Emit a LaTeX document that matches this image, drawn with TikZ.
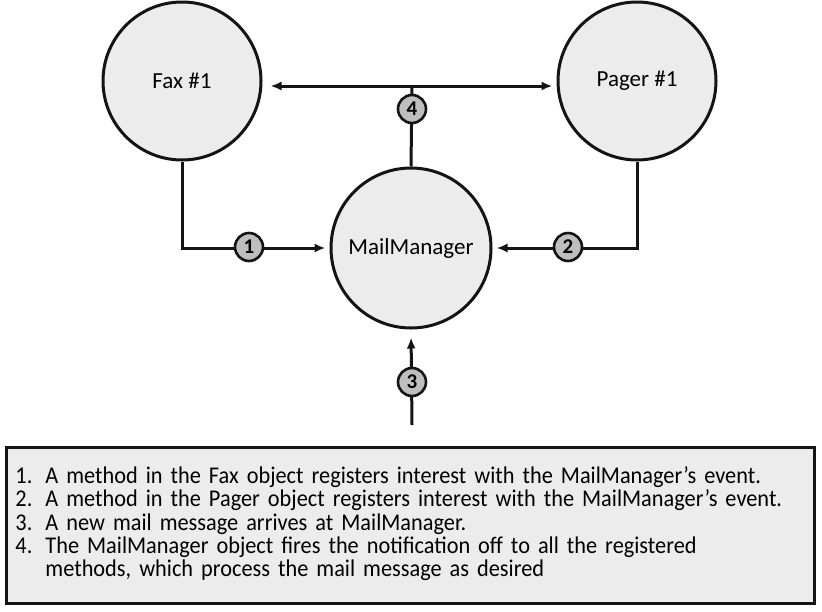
\documentclass[tikz,border=0pt]{standalone}
\usepackage{fontspec}
\setmainfont{Carlito}
\newfontfamily\notefont[FakeStretch=0.93]{Carlito}
\usepackage{tikz}
\usetikzlibrary{arrows.meta, positioning, calc}
\definecolor{objFill}{RGB}{236,236,236}
\definecolor{badgeFill}{RGB}{190,190,190}
\definecolor{ink}{RGB}{20,20,20}
\tikzset{
  objnode/.style={
    circle,
    draw=ink,
    line width=3pt,
    fill=objFill,
    minimum size=158pt,
    inner sep=0pt,
    font=\fontsize{23}{26}\selectfont
  },
  badge/.style={
    circle,
    draw=ink,
    line width=2.6pt,
    fill=badgeFill,
    minimum size=28pt,
    inner sep=0pt,
    font=\fontsize{21}{21}\selectfont\bfseries
  },
  notebox/.style={
    draw=ink,
    line width=3pt,
    fill=objFill,
    minimum height=156pt,
    text width=790pt,
    inner xsep=9pt,
    align=left,
    font=\notefont\fontsize{24}{22.3}\selectfont
  },
  flow/.style={-{Latex[length=11pt,width=9pt]}, line width=3pt, draw=ink},
  twoway/.style={{Latex[length=11pt,width=9pt]}-{Latex[length=11pt,width=9pt]}, line width=3pt, draw=ink}
}

\begin{document}
\begin{tikzpicture}[x=1pt, y=-1pt]
  \useasboundingbox (0,0) rectangle (822,611);

  \node[objnode] (fax) at (182,81) {Fax \#1};
  \node[objnode] (pager) at (637,81) {Pager \#1};
  \node[objnode, minimum size=160pt] (mail) at (411,248) {MailManager};

  \coordinate (hub) at (412,86);
  \coordinate (src) at (412,425);

  % registration and notification paths
  \draw[flow, shorten >=4pt] (fax.south) |- (mail.west);
  \draw[flow, shorten >=4pt] (pager.south) |- (mail.east);
  \draw[flow, shorten >=8pt] (src) -- (mail.south);
  \draw[line width=3pt, draw=ink] (mail.north) -- (hub);
  \draw[twoway, shorten <=8pt, shorten >=4pt] (fax.east |- hub) -- (pager.west |- hub);

  \node[badge] (b1) at (249,247) {1};
  \node[badge] (b2) at (568,247) {2};
  \node[badge] (b3) at (412,382) {3};
  \node[badge] (b4) at (412,109) {4};

  \node[notebox, anchor=west] (notes) at (5,525) {%
    \begin{tabular}{@{}l@{\hspace{13pt}}l@{}}
    1. & A method in the Fax object registers interest with the MailManager’s event.\\
    2. & A method in the Pager object registers interest with the MailManager’s event.\\
    3. & A new mail message arrives at MailManager.\\
    4. & The MailManager object fires the notification off to all the registered\\
       & methods, which process the mail message as desired
    \end{tabular}};
\end{tikzpicture}
\end{document}
